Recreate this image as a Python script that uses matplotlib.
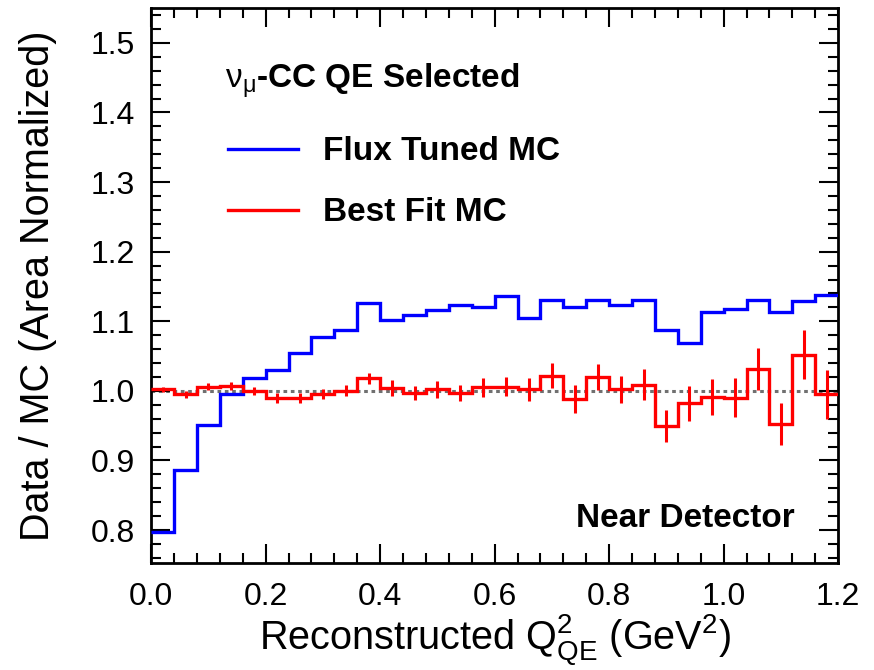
import numpy as np
import matplotlib
matplotlib.use('Agg')
import matplotlib.pyplot as plt
from matplotlib.ticker import MultipleLocator, FormatStrFormatter
from matplotlib.lines import Line2D

# Bin edges of the Q2 histogram (30 bins of 0.04 GeV^2)
edges = np.round(np.arange(0, 1.2001, 0.04), 2)

# Flux tuned MC ratio (blue)
flux_tuned = [0.797, 0.887, 0.951, 0.995, 1.019, 1.030, 1.055, 1.078, 1.088, 1.126,
              1.102, 1.109, 1.116, 1.124, 1.120, 1.136, 1.104, 1.131, 1.120, 1.131,
              1.124, 1.131, 1.088, 1.069, 1.113, 1.118, 1.131, 1.113, 1.129, 1.138]

# Best fit MC ratio (red) with errors
best_fit = [1.002, 0.995, 1.006, 1.007, 1.000, 0.990, 0.990, 0.995, 1.000, 1.018,
            1.004, 0.997, 1.002, 0.997, 1.005, 1.006, 1.002, 1.022, 0.988, 1.020,
            1.002, 1.009, 0.949, 0.982, 0.991, 0.990, 1.031, 0.952, 1.052, 0.995]
best_fit_err = [0.004, 0.005, 0.005, 0.006, 0.006, 0.007, 0.007, 0.007, 0.008, 0.008,
                0.011, 0.010, 0.012, 0.011, 0.014, 0.014, 0.016, 0.018, 0.020, 0.019,
                0.020, 0.022, 0.023, 0.025, 0.026, 0.028, 0.030, 0.030, 0.035, 0.035]

plt.rcParams['font.family'] = ['Liberation Sans', 'DejaVu Sans']
plt.rcParams['mathtext.fontset'] = 'custom'
plt.rcParams['mathtext.rm'] = 'Liberation Sans'
plt.rcParams['mathtext.it'] = 'Liberation Sans:italic'
plt.rcParams['mathtext.bf'] = 'Liberation Sans:bold'

fig, ax = plt.subplots(figsize=(8.74, 6.70), dpi=100)
fig.subplots_adjust(left=0.173, right=0.959, top=0.988, bottom=0.160)

centers = (edges[:-1] + edges[1:]) / 2

ax.axhline(1.0, color='#707070', linestyle=(0, (1.2, 1.2)), linewidth=2.2, zorder=1)
ax.stairs(flux_tuned, edges, color='#0000ff', linewidth=2.4, baseline=None, zorder=3)
ax.stairs(best_fit, edges, color='#ff0000', linewidth=2.4, baseline=None, zorder=3)
ax.errorbar(centers, best_fit, yerr=best_fit_err, fmt='none', ecolor='#ff0000',
            elinewidth=2.2, capsize=0, zorder=3)

ax.set_xlim(0, 1.2)
ax.set_ylim(0.753, 1.55)
ax.xaxis.set_major_locator(MultipleLocator(0.2))
ax.xaxis.set_minor_locator(MultipleLocator(0.04))
ax.yaxis.set_major_locator(MultipleLocator(0.1))
ax.yaxis.set_minor_locator(MultipleLocator(0.02))
ax.tick_params(which='both', direction='in', top=True, right=True, width=1.5,
               labelsize=23)
ax.tick_params(axis='x', pad=14)
ax.tick_params(axis='y', pad=12)
ax.tick_params(which='major', length=14)
ax.tick_params(which='minor', length=7)
ax.xaxis.set_major_formatter(FormatStrFormatter('%.1f'))
ax.yaxis.set_major_formatter(FormatStrFormatter('%.1f'))
for s in ax.spines.values():
    s.set_linewidth(2.0)

ax.set_xlabel(r'Reconstructed Q$^{2}_{\rm QE}$ (GeV$^{2}$)', fontsize=28.5, labelpad=0)
ax.set_ylabel('Data / MC (Area Normalized)', fontsize=28.5, labelpad=24)

ax.text(0.108, 0.868, r'$\mathrm{\nu_{\mu}}$-CC QE Selected', transform=ax.transAxes,
        fontsize=24, fontweight='bold', va='center', ha='left')
ax.text(0.937, 0.079, 'Near Detector', transform=ax.transAxes,
        fontsize=24, fontweight='bold', va='center', ha='right')

h_blue = Line2D([], [], color='#0000ff', linewidth=2.4)
h_red = Line2D([], [], color='#ff0000', linewidth=2.4)
leg = ax.legend([h_blue, h_red], ['Flux Tuned MC', 'Best Fit MC'],
                loc='upper left', bbox_to_anchor=(0.068, 0.823), frameon=False,
                handlelength=2.1, handletextpad=0.75, labelspacing=0.9,
                prop={'size': 24, 'weight': 'bold'})

fig.savefig('out.png', dpi=100)
